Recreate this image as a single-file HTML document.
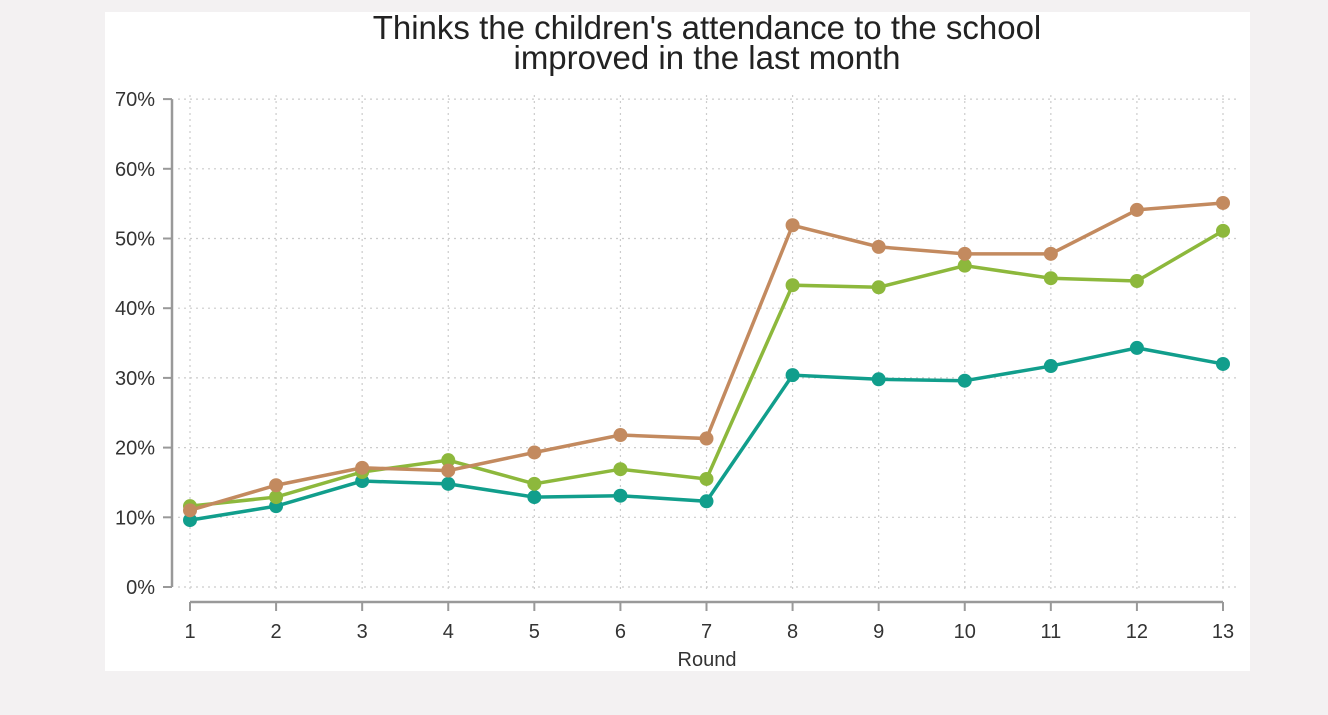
<!DOCTYPE html>
<html><head><meta charset="utf-8"><style>
body{margin:0;width:1328px;height:715px;background:#f3f1f2;overflow:hidden;font-family:"Liberation Sans",Arial,sans-serif}
#panel{position:absolute;left:105px;top:12px;width:1145px;height:659px;background:#fff}
svg{position:absolute;left:0;top:0}
</style></head><body>
<div id="panel"></div>
<svg width="1328" height="715">
<text x="707" y="39" text-anchor="middle" font-size="33" fill="#222">Thinks the children's attendance to the school</text>
<text x="707" y="69" text-anchor="middle" font-size="33" fill="#222">improved in the last month</text>
<g id="grid"></g><g id="axes"></g><g id="series"></g>
<text x="707" y="666" text-anchor="middle" font-size="20" fill="#333">Round</text>
</svg>
<script>
const rounds=[1,2,3,4,5,6,7,8,9,10,11,12,13];
const yTicks=[0,10,20,30,40,50,60,70];
const brown=[11.0,14.6,17.1,16.7,19.3,21.8,21.3,51.9,48.8,47.8,47.8,54.1,55.1];
const green=[11.6,12.9,16.5,18.2,14.8,16.9,15.5,43.3,43.0,46.1,44.3,43.9,51.1];
const teal=[9.6,11.6,15.2,14.8,12.9,13.1,12.3,30.4,29.8,29.6,31.7,34.3,32.0];
const NS='http://www.w3.org/2000/svg';
const x=r=>190+(r-1)*(1223-190)/12;
const y=v=>587-v*6.97;
function mk(tag,at,parent){const e=document.createElementNS(NS,tag);for(const k in at)e.setAttribute(k,at[k]);document.getElementById(parent).appendChild(e);return e;}
yTicks.forEach(t=>{
 let g=mk('line',{x1:178,x2:1240,y1:y(t),y2:y(t),stroke:'#ccc','stroke-dasharray':'2,4','stroke-width':1.2},'grid');
 
 let tk=mk('line',{x1:163,x2:172,y1:y(t),y2:y(t),stroke:'#999','stroke-width':2},'axes');
 
 let tx=mk('text',{x:155,y:y(t)+7,'text-anchor':'end','font-size':20,fill:'#333'},'axes');tx.textContent=t+'%';
 
});
rounds.forEach(r=>{
 let g=mk('line',{x1:x(r),x2:x(r),y1:95,y2:592,stroke:'#ccc','stroke-dasharray':'2,4','stroke-width':1.2},'grid');
 
 let tk=mk('line',{x1:x(r),x2:x(r),y1:602,y2:611,stroke:'#999','stroke-width':2},'axes');
 
 let tx=mk('text',{x:x(r),y:638,'text-anchor':'middle','font-size':20,fill:'#333'},'axes');tx.textContent=r;
 
});
let ya=mk('line',{x1:172,x2:172,y1:y(70),y2:y(0),stroke:'#999','stroke-width':2.5},'axes');

let xa=mk('line',{x1:x(1),x2:x(13),y1:602,y2:602,stroke:'#999','stroke-width':2.5},'axes');

[[teal,'#119e8c','teal'],[green,'#8db83c','green'],[brown,'#c38a5f','brown']].forEach(([d,c,n])=>{
 let p=mk('polyline',{points:d.map((v,i)=>x(rounds[i])+','+y(v)).join(' '),fill:'none',stroke:c,'stroke-width':3.5},'series');
 
 d.forEach((v,i)=>{let m=mk('circle',{cx:x(rounds[i]),cy:y(v),r:7,fill:c},'series');
  });
});
</script>
</body></html>
